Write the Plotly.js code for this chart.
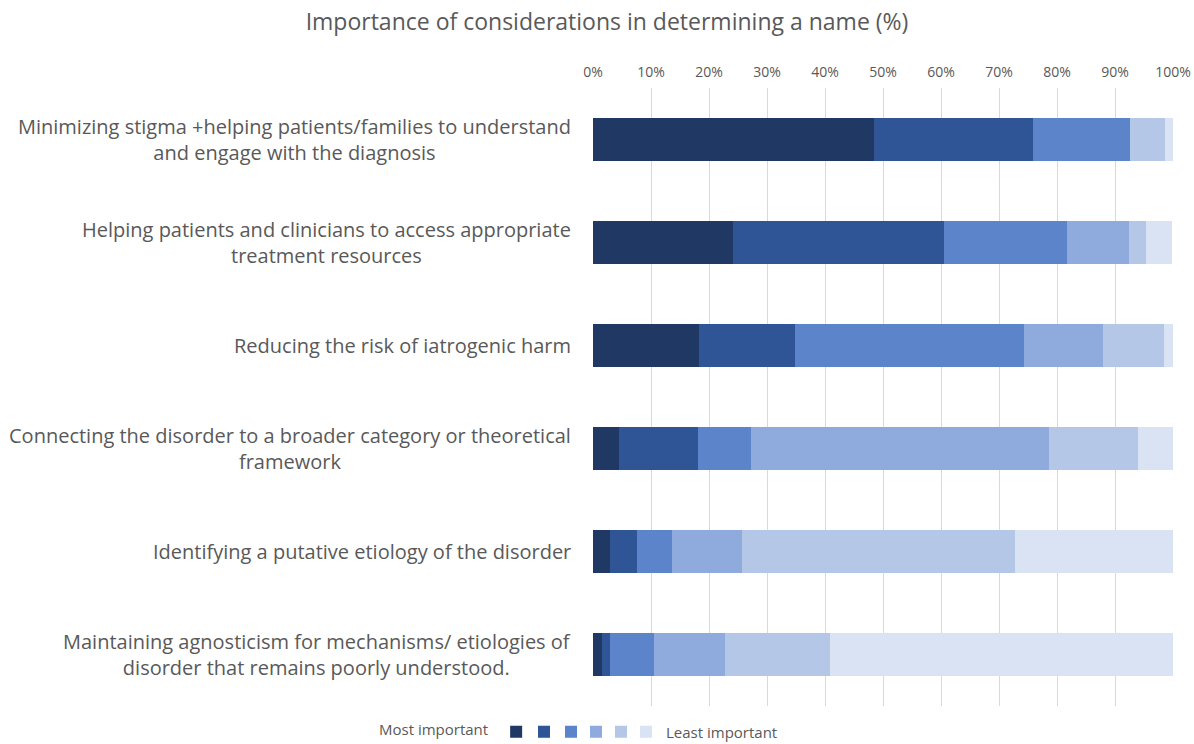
<!DOCTYPE html>
<html>
<head>
<meta charset="utf-8">
<script src="https://cdn.plot.ly/plotly-3.0.1.min.js"></script>
<style>html,body{margin:0;padding:0;background:#fff;}#chart{width:1194px;height:744px;}</style>
</head>
<body>
<div id="chart"></div>
<script>
const categories = [
  "Minimizing stigma +helping patients/families to understand<br>and engage with the diagnosis",
  "Helping patients and clinicians to access appropriate<br>treatment resources",
  "Reducing the risk of iatrogenic harm",
  "Connecting the disorder to a broader category or theoretical<br>framework",
  "Identifying a putative etiology of the disorder",
  "Maintaining agnosticism for mechanisms/ etiologies of<br>disorder that remains poorly understood."
];
const rank1 = [48.5, 24.2, 18.2, 4.5, 3.0, 1.5];
const rank2 = [27.3, 36.4, 16.7, 13.6, 4.5, 1.5];
const rank3 = [16.7, 21.2, 39.4, 9.1, 6.1, 7.6];
const rank4 = [0.0, 10.6, 13.6, 51.5, 12.1, 12.1];
const rank5 = [6.1, 3.0, 10.6, 15.2, 47.0, 18.2];
const rank6 = [1.5, 4.5, 1.5, 6.1, 27.3, 59.1];
const seriesNames = ["", "", "", "", "", "Least important"];
const legendTitle = "Most important";
const seriesColors = ["#203864", "#2F5597", "#5B84CB", "#8FAADC", "#B4C7E7", "#DAE3F3"];
const xTickVals = [0,10,20,30,40,50,60,70,80,90,100];
const xTickText = ["0%","10%","20%","30%","40%","50%","60%","70%","80%","90%","100%"];

const W = 1194, H = 744;
const fontFam = '"Open Sans", "Noto Sans", sans-serif';
const grey = '#595959';

const allSeries = [rank1, rank2, rank3, rank4, rank5, rank6];
const legendIds = ['legend', 'legend2', 'legend3', 'legend4', 'legend5', 'legend6'];
const yIdx = categories.map((c, i) => i);
const traces = allSeries.map((vals, k) => ({
  type: 'bar',
  orientation: 'h',
  x: vals,
  y: yIdx,
  name: seriesNames[k],
  legend: legendIds[k],
  marker: {color: seriesColors[k], line: {width: 0}},
  hoverinfo: 'x'
}));

const annotations = categories.map((c, i) => ({
  xref: 'paper', yref: 'y', x: 0, y: i, xanchor: 'right', yanchor: 'middle',
  xshift: -20, text: c, showarrow: false, align: 'center',
  font: {family: fontFam, size: 20, color: grey}
}));

// legend placement (pixels in container), one legend box per series
const legendLeftPx = [377, 524, 551, 576, 601, 626];
const layout = {
  width: W, height: H,
  margin: {l: 593, r: 21, t: 88, b: 38},
  paper_bgcolor: '#ffffff', plot_bgcolor: '#ffffff',
  barmode: 'stack',
  bargap: 0.59,
  title: {text: 'Importance of considerations in determining a name (%)',
    x: 607 / W, xref: 'container', xanchor: 'center', y: 1 - 22 / H, yref: 'container', yanchor: 'middle',
    font: {family: fontFam, size: 23, color: grey}},
  xaxis: {
    side: 'top', range: [0, 100], tickvals: xTickVals, ticktext: xTickText,
    showgrid: true, gridcolor: '#D9D9D9', gridwidth: 1, zeroline: false,
    showline: false, ticks: '', ticklabelstandoff: 7,
    tickfont: {family: fontFam, size: 14, color: grey}, fixedrange: true
  },
  yaxis: {
    range: [5.5, -0.5], showticklabels: false, showgrid: false, zeroline: false,
    showline: false, ticks: '', fixedrange: true
  },
  showlegend: true,
  annotations: annotations
};
legendIds.forEach((id, k) => {
  layout[id] = {
    orientation: 'h', xref: 'container', yref: 'container',
    x: legendLeftPx[k] / W, xanchor: 'left', y: 1 - 732 / H, yanchor: 'middle',
    font: {family: fontFam, size: 15, color: grey},
    itemwidth: 30, bgcolor: 'rgba(0,0,0,0)', borderwidth: 0
  };
});
layout.legend.title = {text: legendTitle, side: 'left', font: {family: fontFam, size: 15, color: grey}};

Plotly.newPlot('chart', traces, layout, {displayModeBar: false, staticPlot: true});
</script>
</body>
</html>
